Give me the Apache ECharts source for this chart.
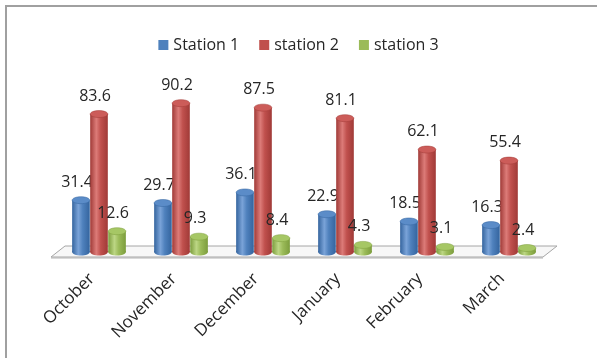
<!DOCTYPE html>
<html>
<head>
<meta charset="utf-8">
<script src="https://cdn.jsdelivr.net/npm/echarts@6/dist/echarts.min.js"></script>
<style>html,body{margin:0;padding:0;background:#fff}#c{width:597px;height:358px}</style>
</head>
<body>
<div id="c"></div>
<script>
var categories = ['October', 'November', 'December', 'January', 'February', 'March'];
var station1 = [31.4, 29.7, 36.1, 22.9, 18.5, 16.3];
var station2 = [83.6, 90.2, 87.5, 81.1, 62.1, 55.4];
var station3 = [12.6, 9.3, 8.4, 4.3, 3.1, 2.4];
var seriesNames = ['Station 1', 'station 2', 'station 3'];

var FONT = '"Open Sans", "Liberation Sans", sans-serif';
var palettes = [
  {base: '#4F81BD', dark: '#34649e', light: '#7aa3d8', top: '#5b8cc8'},
  {base: '#C0504D', dark: '#a03a37', light: '#dc7b78', top: '#cc5c59'},
  {base: '#9BBB59', dark: '#7c9d3d', light: '#bcd684', top: '#a6c765'}
];
var offsets = [-0.22, 0, 0.22];

function cylinderSeries(idx, data) {
  var p = palettes[idx];
  return {
    type: 'custom',
    name: seriesNames[idx],
    itemStyle: {color: p.base},
    z: 3,
    data: data.map(function (v, i) { return [i, v]; }),
    renderItem: function (params, api) {
      var i = api.value(0), v = api.value(1);
      var band = api.size([1, 0])[0];
      var c = api.coord([i, v]);
      var b = api.coord([i, 0]);
      var cx = c[0] + offsets[idx] * band;
      var w = band * 0.215;
      var ry = 3.5;
      var grad = new echarts.graphic.LinearGradient(0, 0, 1, 0, [
        {offset: 0, color: p.dark},
        {offset: 0.35, color: p.light},
        {offset: 0.6, color: p.base},
        {offset: 1, color: p.dark}
      ]);
      return {
        type: 'group',
        children: [
          {type: 'ellipse', shape: {cx: cx, cy: b[1], rx: w / 2, ry: ry}, style: {fill: grad}},
          {type: 'rect', shape: {x: cx - w / 2, y: c[1], width: w, height: b[1] - c[1]}, style: {fill: grad}},
          {type: 'ellipse', shape: {cx: cx, cy: c[1], rx: w / 2, ry: ry}, style: {fill: p.top, stroke: p.dark, lineWidth: 0.5}},
          {type: 'text', x: cx - 4, y: c[1] - 18, style: {text: String(v), fill: '#262626', font: '16px ' + FONT, align: 'center', verticalAlign: 'middle'}}
        ]
      };
    }
  };
}

var floorSeries = {
  type: 'custom',
  name: 'floor',
  silent: true,
  z: 1,
  data: [[0, 0]],
  renderItem: function (params, api) {
    var band = api.size([1, 0])[0];
    var first = api.coord([0, 0]);
    var last = api.coord([categories.length - 1, 0]);
    var l = first[0] - band / 2, r = last[0] + band / 2, y = first[1];
    var d = 7, up = 6, down = 5;
    var pts = [[l - d, y + down], [l + d, y - up], [r + d, y - up], [r - d, y + down]];
    return {
      type: 'group',
      children: [
        {type: 'polygon', shape: {points: [[l - d, y + down], [r - d, y + down], [r - d, y + down + 2], [l - d, y + down + 2]]}, style: {fill: '#d9d9d9'}},
        {type: 'polygon', shape: {points: pts}, style: {fill: '#f7f7f7', stroke: '#a6a6a6', lineWidth: 1}}
      ]
    };
  }
};

var chart = echarts.init(document.getElementById('c'), null, {renderer: 'canvas'});
chart.setOption({
  animation: false,
  backgroundColor: '#fff',
  textStyle: {fontFamily: FONT},
  legend: {
    data: seriesNames,
    top: 32,
    left: 'center',
    icon: 'rect',
    itemWidth: 10,
    itemHeight: 10,
    itemGap: 20,
    textStyle: {fontSize: 16, color: '#262626', fontFamily: FONT}
  },
  grid: {left: 58, right: 47, top: 87, bottom: 106},
  xAxis: {
    type: 'category',
    data: categories,
    axisLine: {show: false},
    axisTick: {show: false},
    axisLabel: {rotate: 45, margin: 17, padding: [0, 10, 0, 0], fontSize: 17, color: '#262626', fontFamily: FONT, interval: 0}
  },
  yAxis: {
    type: 'value',
    min: 0,
    max: 100,
    show: false,
    splitLine: {show: false}
  },
  graphic: [
    {type: 'polyline', shape: {points: [[6, 358], [6, 6], [597, 6]]}, style: {stroke: '#a0a0a0', lineWidth: 2, fill: null}, z: 10}
  ],
  series: [floorSeries, cylinderSeries(0, station1), cylinderSeries(1, station2), cylinderSeries(2, station3)]
});
</script>
</body>
</html>
